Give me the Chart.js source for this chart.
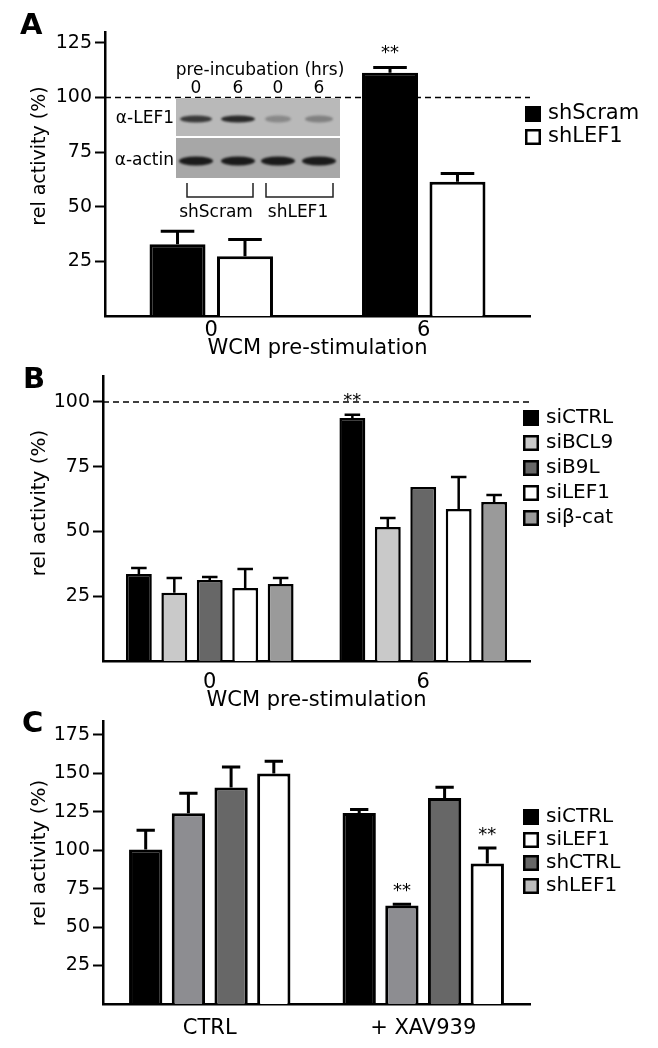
<!DOCTYPE html>
<html>
<head>
<meta charset="utf-8">
<script src="https://cdn.jsdelivr.net/npm/chart.js@4.4.1/dist/chart.umd.min.js"></script>
<style>
body { margin: 0; background: #fff; width: 658px; height: 1048px; overflow: hidden; position: relative; }
canvas { position: absolute; left: 0; }
</style>
</head>
<body>
<canvas id="chartA" width="658" height="362" style="top:0px"></canvas>
<canvas id="chartB" width="658" height="352" style="top:362px"></canvas>
<canvas id="chartC" width="658" height="358" style="top:690px"></canvas>
<script>
// ---- panel A data ----
const groupsA = ['0', '6'];
const shScramA = [32.9, 111.4];
const shScramErrA = [5.9, 2.3];
const shLEF1A = [27.4, 61.5];
const shLEF1ErrA = [7.6, 3.7];
const starsA = ['', '**'];
const yTicksA = [25, 50, 75, 100, 125];

// ---- panel B data ----
const groupsB = ['0', '6'];
const siCTRLB = [33.6, 93.8];
const siCTRLErrB = [2.3, 1.2];
const siBCL9B = [26.3, 51.7];
const siBCL9ErrB = [5.7, 3.5];
const siB9LB = [31.3, 67.2];
const siB9LErrB = [1.1, 0];
const siLEF1B = [28.2, 58.7];
const siLEF1ErrB = [7.3, 12.3];
const siBcatB = [29.7, 61.4];
const siBcatErrB = [2.3, 2.7];
const starsB = ['', '**'];
const yTicksB = [25, 50, 75, 100];

// ---- panel C data ----
const groupsC = ['CTRL', '+ XAV939'];
const siCTRLC = [100.4, 124.2];
const siCTRLErrC = [12.6, 2.2];
const shLEF1C = [124, 64.1];
const shLEF1ErrC = [13, 0.7];
const shCTRLC = [140.7, 134];
const shCTRLErrC = [13.4, 7];
const siLEF1C = [149.8, 91.4];
const siLEF1ErrC = [8, 10];
const starsShLEF1C = ['', '**'];
const starsSiLEF1C = ['', '**'];
const yTicksC = [25, 50, 75, 100, 125, 150, 175];
const legendOrderC = ['siCTRL', 'siLEF1', 'shCTRL', 'shLEF1'];

Chart.defaults.font.family = "'DejaVu Sans', sans-serif";
Chart.defaults.color = '#000';

// error bars (one sided, upward) + significance stars
const errorBars = {
  id: 'errorBars',
  afterDatasetsDraw(chart, args, o) {
    const ctx = chart.ctx, y = chart.scales.y;
    ctx.save();
    ctx.strokeStyle = '#000';
    ctx.lineWidth = o.lineWidth;
    chart.data.datasets.forEach((ds, i) => {
      chart.getDatasetMeta(i).data.forEach((bar, j) => {
        const err = ds.errors ? ds.errors[j] : 0;
        const yTop = y.getPixelForValue(ds.data[j] + err);
        if (err > 0) {
          const half = bar.width * o.cap / 2;
          ctx.beginPath();
          ctx.moveTo(bar.x, bar.y);
          ctx.lineTo(bar.x, yTop);
          ctx.moveTo(bar.x - half, yTop);
          ctx.lineTo(bar.x + half, yTop);
          ctx.stroke();
        }
        if (ds.stars && ds.stars[j]) {
          ctx.fillStyle = '#000';
          ctx.font = "18px 'DejaVu Sans'";
          ctx.textAlign = 'center';
          ctx.textBaseline = 'middle';
          ctx.fillText(ds.stars[j], bar.x, yTop - o.starGap);
        }
      });
    });
    ctx.restore();
  }
};

// dashed reference line at 100 %
const refLine = {
  id: 'refLine',
  beforeDatasetsDraw(chart, args, o) {
    if (!o.show) return;
    const ctx = chart.ctx, a = chart.chartArea;
    const yy = chart.scales.y.getPixelForValue(o.value);
    ctx.save();
    ctx.strokeStyle = '#000';
    ctx.lineWidth = 1.5;
    ctx.setLineDash([6, 4]);
    ctx.beginPath();
    ctx.moveTo(a.left, yy);
    ctx.lineTo(a.right, yy);
    ctx.stroke();
    ctx.restore();
  }
};

// small legend with square boxes
const miniLegend = {
  id: 'miniLegend',
  afterDraw(chart, args, o) {
    const ctx = chart.ctx;
    const dss = chart.data.datasets;
    const order = o.order || dss.map(d => d.label);
    ctx.save();
    order.forEach((lab, k) => {
      const ds = dss.find(d => d.label === lab);
      const cy = o.y + k * o.dy;
      ctx.fillStyle = ds.legendColor || ds.backgroundColor;
      ctx.fillRect(o.x, cy - 8, 16, 16);
      ctx.strokeStyle = '#000';
      ctx.lineWidth = 2.5;
      ctx.strokeRect(o.x + 1.25, cy - 6.75, 13.5, 13.5);
      ctx.fillStyle = '#000';
      ctx.font = o.size + "px 'DejaVu Sans'";
      ctx.textAlign = 'left';
      ctx.textBaseline = 'middle';
      ctx.fillText(lab, o.x + 23, cy);
    });
    ctx.restore();
  }
};

// panel letter and y axis title
const panelText = {
  id: 'panelText',
  afterDraw(chart, args, o) {
    const ctx = chart.ctx;
    ctx.save();
    ctx.fillStyle = '#000';
    ctx.font = "bold 29px 'DejaVu Sans'";
    ctx.textAlign = 'left';
    ctx.textBaseline = 'alphabetic';
    ctx.fillText(o.letter, o.letterX, o.letterY);
    ctx.translate(o.titleX, o.titleY);
    ctx.rotate(-Math.PI / 2);
    ctx.font = o.titleSize + "px 'DejaVu Sans'";
    ctx.textAlign = 'center';
    ctx.textBaseline = 'middle';
    ctx.fillText('rel activity (%)', 0, 0);
    ctx.restore();
  }
};

// western blot inset of panel A (picture, not data)
const blotInset = {
  id: 'blotInset',
  afterDraw(chart) {
    const ctx = chart.ctx;
    const lanes = [196, 238, 278, 319];
    const lefDark = [0.8, 0.9, 0.3, 0.35];
    const lefW = [16, 17, 13, 14];
    ctx.save();
    ctx.fillStyle = '#b9b9b9';
    ctx.fillRect(176, 98, 164, 38);
    ctx.fillStyle = '#ffffff';
    ctx.fillRect(176, 136, 164, 2);
    ctx.fillStyle = '#a7a7a7';
    ctx.fillRect(176, 138, 164, 40);
    ctx.filter = 'blur(1.3px)';
    lanes.forEach((x, i) => {
      ctx.fillStyle = 'rgba(25,25,25,' + lefDark[i] + ')';
      ctx.beginPath();
      ctx.ellipse(x, 119, lefW[i], 3.5, 0, 0, Math.PI * 2);
      ctx.fill();
      ctx.fillStyle = 'rgba(15,15,15,0.92)';
      ctx.beginPath();
      ctx.ellipse(x, 161, 17, 4.5, 0, 0, Math.PI * 2);
      ctx.fill();
    });
    ctx.filter = 'none';
    ctx.fillStyle = '#000';
    ctx.font = "17px 'DejaVu Sans'";
    ctx.textAlign = 'center';
    ctx.textBaseline = 'alphabetic';
    ctx.fillText('pre-incubation (hrs)', 260, 75);
    ['0', '6', '0', '6'].forEach((t, i) => ctx.fillText(t, lanes[i], 93));
    ctx.fillText('shScram', 216, 217);
    ctx.fillText('shLEF1', 298, 217);
    ctx.textAlign = 'right';
    ctx.textBaseline = 'middle';
    ctx.fillText('\u03b1-LEF1', 174, 119);
    ctx.fillText('\u03b1-actin', 174, 161);
    ctx.strokeStyle = '#222';
    ctx.lineWidth = 1.5;
    [[187, 253], [266, 333]].forEach(([x1, x2]) => {
      ctx.beginPath();
      ctx.moveTo(x1, 183);
      ctx.lineTo(x1, 197);
      ctx.lineTo(x2, 197);
      ctx.lineTo(x2, 183);
      ctx.stroke();
    });
    ctx.restore();
  }
};

function yScale(max, ticks, width) {
  return {
    min: 0,
    max: max,
    afterBuildTicks: s => { s.ticks = ticks.map(v => ({ value: v })); },
    afterFit: s => { s.width = width; s.paddingTop = 0; s.paddingBottom = 0; },
    grid: { drawOnChartArea: false, drawTicks: true, tickLength: 10, tickWidth: 2, tickColor: '#000' },
    border: { display: true, color: '#000', width: 2.5 },
    ticks: { font: { size: 19 }, color: '#000', padding: 3 }
  };
}

function xScale(height, pad, title) {
  return {
    grid: { display: false, drawTicks: false },
    border: { display: true, color: '#000', width: 2.5 },
    ticks: { font: { size: 21 }, color: '#000', padding: pad },
    title: { display: !!title, text: title || '', font: { size: 21 }, color: '#000', padding: { top: 0, bottom: 1 } },
    afterFit: s => { s.height = height; s.paddingLeft = 0; s.paddingRight = 0; }
  };
}

function bar(label, data, errors, color, bw, stars, legendColor) {
  return {
    label: label, data: data, errors: errors, stars: stars, legendColor: legendColor,
    backgroundColor: color, borderColor: '#000', borderWidth: bw
  };
}

// ---------- A ----------
new Chart(document.getElementById('chartA'), {
  type: 'bar',
  data: {
    labels: groupsA,
    datasets: [
      bar('shScram', shScramA, shScramErrA, '#000000', 3, starsA),
      bar('shLEF1', shLEF1A, shLEF1ErrA, '#ffffff', 3)
    ]
  },
  options: {
    responsive: false,
    animation: false,
    layout: { padding: { top: 32, right: 128, bottom: 0, left: 0 } },
    datasets: { bar: { categoryPercentage: 0.635, barPercentage: 0.83 } },
    scales: { x: xScale(46, 2, 'WCM pre-stimulation'), y: yScale(130, yTicksA, 105) },
    plugins: {
      legend: { display: false }, tooltip: { enabled: false },
      errorBars: { lineWidth: 3, cap: 0.6, starGap: 14 },
      refLine: { show: true, value: 100 },
      miniLegend: { x: 525, y: 114, dy: 23, size: 21 },
      panelText: { letter: 'A', letterX: 20, letterY: 34, titleX: 40, titleY: 156, titleSize: 19 }
    }
  },
  plugins: [refLine, errorBars, miniLegend, panelText, blotInset]
});

// ---------- B ----------
new Chart(document.getElementById('chartB'), {
  type: 'bar',
  data: {
    labels: groupsB,
    datasets: [
      bar('siCTRL', siCTRLB, siCTRLErrB, '#000000', 2.5, starsB),
      bar('siBCL9', siBCL9B, siBCL9ErrB, '#c9c9c9', 2.5),
      bar('siB9L', siB9LB, siB9LErrB, '#676767', 2.5),
      bar('siLEF1', siLEF1B, siLEF1ErrB, '#ffffff', 2.5),
      bar('si\u03b2-cat', siBcatB, siBcatErrB, '#9a9a9a', 2.5)
    ]
  },
  options: {
    responsive: false,
    animation: false,
    layout: { padding: { top: 14, right: 128, bottom: 0, left: 0 } },
    datasets: { bar: { categoryPercentage: 0.83, barPercentage: 0.73 } },
    scales: { x: xScale(53, 9, 'WCM pre-stimulation'), y: yScale(110, yTicksB, 103) },
    plugins: {
      legend: { display: false }, tooltip: { enabled: false },
      errorBars: { lineWidth: 2.5, cap: 0.6, starGap: 14 },
      refLine: { show: true, value: 100 },
      miniLegend: { x: 523, y: 56, dy: 25, size: 20 },
      panelText: { letter: 'B', letterX: 23, letterY: 26, titleX: 40, titleY: 141, titleSize: 20 }
    }
  },
  plugins: [refLine, errorBars, miniLegend, panelText]
});

// ---------- C ----------
new Chart(document.getElementById('chartC'), {
  type: 'bar',
  data: {
    labels: groupsC,
    datasets: [
      bar('siCTRL', siCTRLC, siCTRLErrC, '#000000', 3),
      bar('shLEF1', shLEF1C, shLEF1ErrC, '#8d8d91', 3, starsShLEF1C, '#bdbdbd'),
      bar('shCTRL', shCTRLC, shCTRLErrC, '#676767', 3),
      bar('siLEF1', siLEF1C, siLEF1ErrC, '#ffffff', 3, starsSiLEF1C)
    ]
  },
  options: {
    responsive: false,
    animation: false,
    layout: { padding: { top: 31, right: 128, bottom: 0, left: 0 } },
    datasets: { bar: { categoryPercentage: 0.8, barPercentage: 0.78 } },
    scales: { x: xScale(44, 12), y: yScale(184, yTicksC, 103) },
    plugins: {
      legend: { display: false }, tooltip: { enabled: false },
      errorBars: { lineWidth: 3, cap: 0.55, starGap: 13 },
      refLine: { show: false },
      miniLegend: { x: 523, y: 127, dy: 23, size: 20, order: legendOrderC },
      panelText: { letter: 'C', letterX: 22, letterY: 42, titleX: 40, titleY: 163, titleSize: 20 }
    }
  },
  plugins: [refLine, errorBars, miniLegend, panelText]
});
</script>
</body>
</html>
